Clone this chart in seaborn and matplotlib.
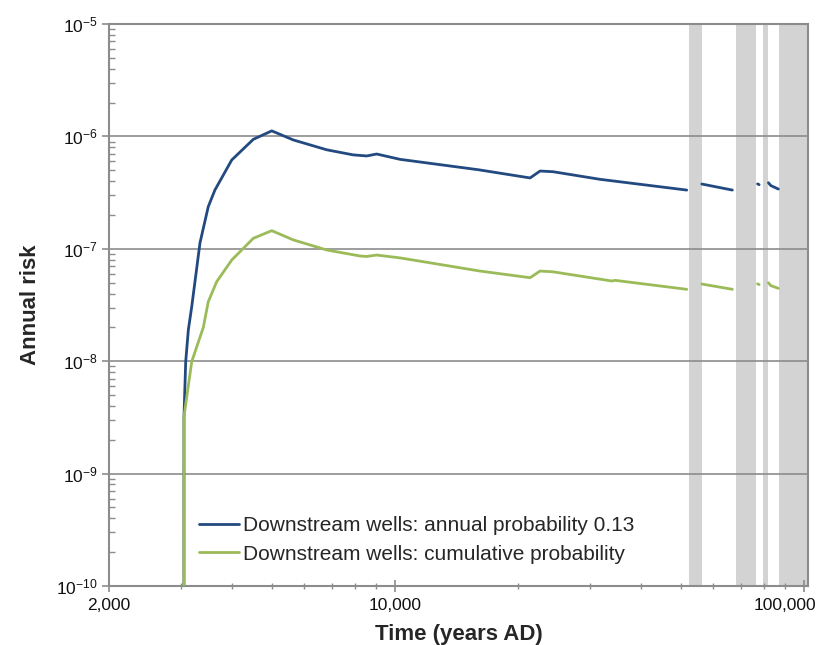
import numpy as np
import pandas as pd
import matplotlib
matplotlib.use("Agg")
import matplotlib.pyplot as plt
import matplotlib.ticker as mticker
import matplotlib.transforms as mtransforms
import seaborn as sns

# series labels
LABEL_ANNUAL = "Downstream wells: annual probability 0.13"
LABEL_CUM = "Downstream wells: cumulative probability"

# annual probability curve, split into segments (gaps inside grey bands)
annual_seg = [0] * 23 + [1] * 2 + [2] * 2 + [3] * 3
annual_x = [3049, 3050, 3080, 3126, 3186, 3338, 3497, 3630, 3991, 4507, 5000,
            5644, 6813, 7902, 8534, 9024, 10292, 16000, 21400, 22640, 24360,
            31740, 51700,
            56270, 66840,
            77000, 77700,
            81860, 83000, 86580]
annual_y = [1e-12, 3.2e-9, 9.9e-9, 1.9e-8, 3.05e-8, 1.13e-7, 2.37e-7, 3.33e-7,
            6.17e-7, 9.42e-7, 1.12e-6, 9.3e-7, 7.6e-7, 6.85e-7, 6.7e-7, 6.97e-7,
            6.25e-7, 5.05e-7, 4.27e-7, 4.92e-7, 4.85e-7, 4.15e-7, 3.33e-7,
            3.77e-7, 3.33e-7,
            3.78e-7, 3.72e-7,
            3.87e-7, 3.65e-7, 3.40e-7]

# cumulative probability curve
cum_seg = [0] * 23 + [1] * 2 + [2] * 2 + [3] * 3
cum_x = [3049, 3050, 3098, 3186, 3401, 3497, 3666, 3991, 4507, 5000, 5644,
         6813, 8218, 8534, 9024, 10292, 16140, 21400, 22640, 24360, 33900,
         34540, 51700,
         56270, 66840,
         77000, 77700,
         81860, 83000, 86580]
cum_y = [1e-12, 3.2e-9, 4.8e-9, 9.9e-9, 2.0e-8, 3.38e-8, 5.09e-8, 7.95e-8,
         1.24e-7, 1.45e-7, 1.20e-7, 9.76e-8, 8.63e-8, 8.55e-8, 8.8e-8, 8.3e-8,
         6.34e-8, 5.53e-8, 6.34e-8, 6.24e-8, 5.17e-8, 5.24e-8, 4.36e-8,
         4.86e-8, 4.36e-8,
         4.88e-8, 4.80e-8,
         4.99e-8, 4.70e-8, 4.45e-8]

# shaded periods (years AD)
band_start = [52400, 68200, 79400, 86900]
band_end = [56300, 76400, 81700, 104000]

x_ticks = [2000, 10000, 100000]
x_ticklabels = ["2,000", "10,000", "100,000"]

df = pd.concat([
    pd.DataFrame({"time": annual_x, "risk": annual_y, "segment": annual_seg,
                  "series": LABEL_ANNUAL}),
    pd.DataFrame({"time": cum_x, "risk": cum_y, "segment": cum_seg,
                  "series": LABEL_CUM}),
], ignore_index=True)

sns.set_theme(style="white")
plt.rcParams["font.family"] = ["Liberation Sans", "DejaVu Sans"]
plt.rcParams["mathtext.fontset"] = "custom"
plt.rcParams["mathtext.rm"] = "Liberation Sans"
plt.rcParams["mathtext.it"] = "Liberation Sans:italic"

fig = plt.figure(figsize=(8.21, 6.45), dpi=100)
ax = fig.add_axes([109 / 821, 1 - 586 / 645, 699 / 821, 562 / 645])

for s, e in zip(band_start, band_end):
    ax.axvspan(s, e, color="#d3d3d3", lw=0, zorder=0.2)

sns.lineplot(data=df, x="time", y="risk", hue="series", units="segment",
             estimator=None, palette=["#224a80", "#9bbb59"], linewidth=2.0,
             ax=ax, zorder=3)

ax.set_xscale("log")
ax.set_yscale("log")
ax.set_xlim(2000, 102300)
ax.set_ylim(1e-10, 1e-5)

ax.xaxis.set_major_locator(mticker.FixedLocator(x_ticks))
ax.xaxis.set_major_formatter(mticker.FixedFormatter(x_ticklabels))
ax.xaxis.set_minor_locator(mticker.LogLocator(base=10, subs=np.arange(2, 10)))
ax.xaxis.set_minor_formatter(mticker.NullFormatter())
ax.yaxis.set_major_locator(mticker.LogLocator(base=10, numticks=10))
ax.yaxis.set_minor_locator(mticker.LogLocator(base=10, subs=np.arange(2, 10), numticks=10))
ax.yaxis.set_minor_formatter(mticker.NullFormatter())

gray = "#8c8c8c"
ax.set_axisbelow(True)
ax.grid(True, axis="y", which="major", color=gray, linewidth=1.2)
for sp in ax.spines.values():
    sp.set_color(gray)
    sp.set_linewidth(1.5)

ax.tick_params(axis="y", which="major", direction="out", length=5, width=1.2,
               color=gray, labelsize=12.5, labelcolor="#111111", pad=3)
ax.tick_params(axis="y", which="minor", direction="in", length=4, width=1,
               color=gray)
ax.tick_params(axis="x", which="major", direction="inout", length=9, width=1.2,
               color=gray, labelsize=12.5, labelcolor="#111111", pad=4)
ax.tick_params(axis="x", which="minor", direction="inout", length=5, width=1,
               color=gray)
ax.tick_params(left=True, bottom=True, which="both")

# keep the last x label inside the figure, as in the original
last = ax.get_xticklabels()[-1]
last.set_transform(last.get_transform()
                   + mtransforms.ScaledTranslation(-0.19, 0, fig.dpi_scale_trans))

ax.set_xlabel("Time (years AD)", fontsize=16, fontweight="bold", labelpad=8)
ax.set_ylabel("Annual risk", fontsize=16, fontweight="bold", labelpad=11)

leg = ax.legend(loc="lower left", bbox_to_anchor=(0.117, 0.025), frameon=False,
                fontsize=15, handlelength=1.9, handletextpad=0.2,
                labelspacing=0.45, borderaxespad=0)
for line in leg.get_lines():
    line.set_linewidth(2.0)

fig.savefig("out.png", dpi=100)
plt.close()
